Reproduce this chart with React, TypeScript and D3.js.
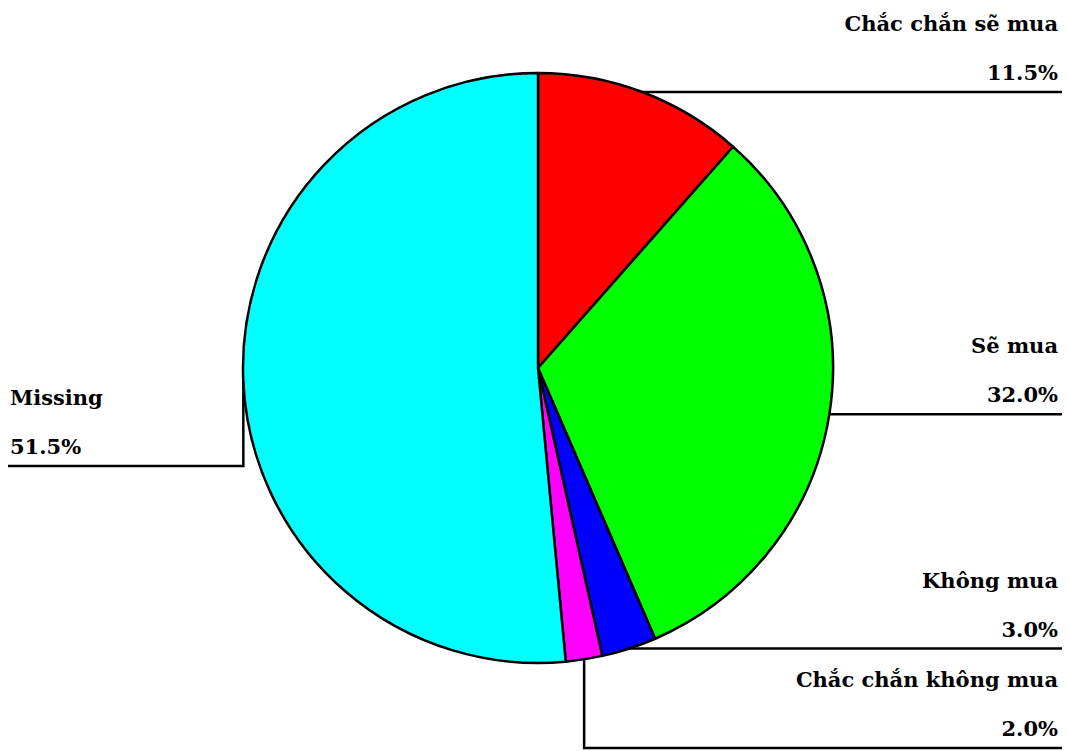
import React from "react";
import * as d3 from "d3";

const categories = ["Chắc chắn sẽ mua", "Sẽ mua", "Không mua", "Chắc chắn không mua", "Missing"];
const percents = [11.5, 32.0, 3.0, 2.0, 51.5];
const colors = ["#ff0000", "#00ff00", "#0000ff", "#ff00ff", "#00ffff"];

const W = 1068;
const H = 751;
const cx = 538;
const cy = 368;
const R = 295;

export default function App() {
  const pie = d3.pie<number>().sort(null).value((d) => d)(percents);
  const arc = d3.arc<d3.PieArcDatum<number>>().innerRadius(0).outerRadius(R);

  const font = "'DejaVu Serif', serif";
  const items = pie.map((p, i) => {
    const mid = (p.startAngle + p.endAngle) / 2;
    const px = cx + R * Math.sin(mid);
    const py = cy - R * Math.cos(mid);
    return { p, i, mid, px, py };
  });

  return (
    <svg width={W} height={H} style={{ position: "absolute", left: 0, top: 0, background: "#fff" }}>
      <g transform={`translate(${cx},${cy})`}>
        {pie.map((p, i) => (
          <path key={i} d={arc(p) || ""} fill={colors[i]} stroke="#000" strokeWidth={2.5} strokeLinejoin="round" />
        ))}
      </g>
      {items.map(({ i, px, py }) => {
        const right = px > cx;
        let lineY = py;
        let path = "";
        if (i === 3) {
          lineY = 748;
          path = `M${px},${py}V${lineY}H1062`;
        } else if (i === 4) {
          lineY = 466;
          path = `M${px},${py}V${lineY}H8`;
        } else {
          path = `M${px},${py}H1062`;
        }
        const tx = right ? 1058 : 10;
        const anchor = right ? "end" : "start";
        return (
          <g key={i}>
            <path d={path} fill="none" stroke="#000" strokeWidth={2.5} />
            <text x={tx} y={lineY - 61} textAnchor={anchor} fontFamily={font} fontWeight="bold" fontSize={21} fill="#000">
              {categories[i]}
            </text>
            <text x={tx} y={lineY - 12} textAnchor={anchor} fontFamily={font} fontWeight="bold" fontSize={21} fill="#000">
              {percents[i].toFixed(1) + "%"}
            </text>
          </g>
        );
      })}
    </svg>
  );
}
